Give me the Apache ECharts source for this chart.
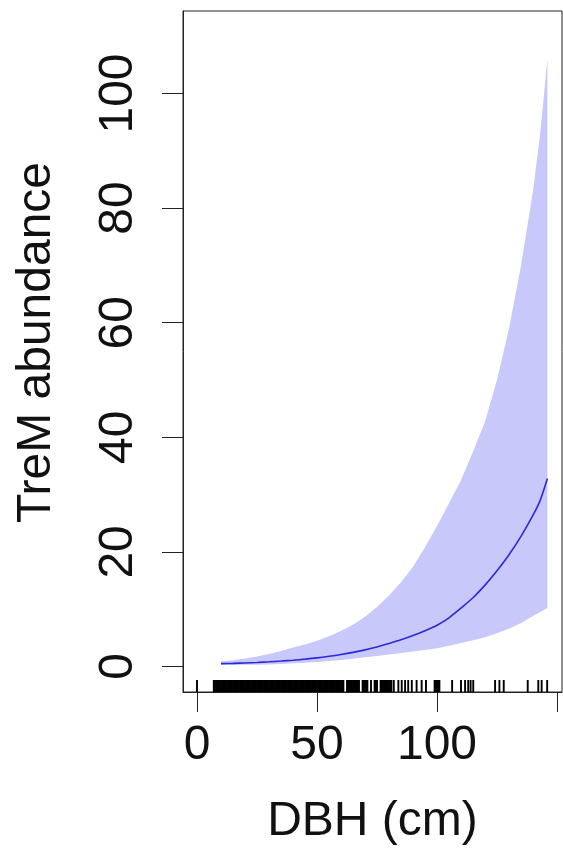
<!DOCTYPE html>
<html>
<head>
<meta charset="utf-8">
<script src="https://cdn.jsdelivr.net/npm/echarts@6/dist/echarts.min.js"></script>
<style>
html, body { margin: 0; padding: 0; background: #fff; }
#chart { width: 563px; height: 858px; }
</style>
</head>
<body>
<div id="chart"></div>
<script>
// Predicted TreM abundance along DBH
const dbh   = [10, 15, 20, 25, 30, 35, 40, 45, 50, 55, 60, 65, 70, 75, 80, 85, 90, 95, 100, 105, 110, 115, 120, 125, 130, 135, 140, 143, 146];
const fit   = [0.5, 0.55, 0.62, 0.71, 0.82, 0.95, 1.1, 1.28, 1.5, 1.78, 2.1, 2.47, 2.9, 3.4, 4.0, 4.65, 5.4, 6.25, 7.2, 8.5, 10.2, 12.0, 14.2, 16.7, 19.5, 22.7, 26.4, 29.0, 32.8];
const upper = [0.9, 1.1, 1.4, 1.75, 2.2, 2.7, 3.3, 3.85, 4.5, 5.3, 6.2, 7.3, 8.7, 10.4, 12.4, 14.7, 17.4, 20.8, 24.5, 28.5, 32.5, 37.5, 42.7, 50, 59, 70, 83, 93, 106];
const lower = [0.25, 0.27, 0.3, 0.32, 0.35, 0.45, 0.55, 0.67, 0.8, 0.97, 1.15, 1.37, 1.6, 1.85, 2.1, 2.35, 2.6, 2.9, 3.2, 3.6, 4.1, 4.6, 5.1, 5.8, 6.6, 7.6, 8.8, 9.5, 10.2];

// Observed DBH values (rug)
const rugDbh = [
  0,
  7, 7.5, 8, 8.5, 9, 9.5, 10, 10.5, 11, 11.5, 12, 12.5, 13, 13.5, 14, 14.5, 15, 15.5, 16, 16.5,
  17, 17.5, 18, 18.5, 19, 19.5, 20, 20.5, 21, 21.5, 22, 22.5, 23, 23.5, 24, 24.5, 25, 25.5, 26, 26.5,
  27, 27.5, 28, 28.5, 29, 29.5, 30, 30.5, 31, 31.5, 32, 32.5, 33, 33.5, 34, 34.5, 35, 35.5, 36, 36.5,
  37, 37.5, 38, 38.5, 39, 39.5, 40, 40.5, 41, 41.5, 42, 42.5, 43, 43.5, 44, 44.5, 45, 45.5, 46, 46.5,
  47, 47.5, 48, 48.5, 49, 49.5, 50, 50.5, 51, 51.5, 52, 52.5, 53, 53.5, 54, 54.5, 55, 55.5, 56, 56.5,
  57, 57.5, 58, 58.5, 59, 59.5, 60, 60.5, 61,
  62.5, 63, 63.5, 64, 64.5, 65, 65.5, 66, 66.5, 67, 67.5, 69, 69.5, 70, 70.5, 71, 72.5,
  74, 74.5, 75, 76.5, 77, 77.5, 78, 78.5, 79, 79.5, 80, 80.5, 81, 82,
  83.9, 85.3, 86.7, 88, 89.5, 91.5, 93.6, 95.4,
  99, 99.5, 100, 100.5, 101, 106.3, 110, 111.7, 113, 114, 115.1,
  124.2, 126, 127.8, 137.8, 142.2, 143.6, 145.9
];

const xTicks = [0, 50, 100, 150];
const xLabels = [0, 50, 100];
const yTicks = [0, 20, 40, 60, 80, 100];

const FONT = 'Liberation Sans, Arial, sans-serif';
const TXT = '#111';

const chart = echarts.init(document.getElementById('chart'), null, { renderer: 'canvas' });

chart.setOption({
  backgroundColor: '#fff',
  animation: false,
  grid: {
    left: 183, right: 1, top: 11, bottom: 166,
    show: true, borderColor: '#222', borderWidth: 1,
    backgroundColor: 'transparent',
    outerBoundsMode: 'none', containLabel: false
  },
  xAxis: {
    type: 'value',
    min: -5.83, max: 152.08,
    name: 'DBH (cm)',
    nameLocation: 'middle',
    nameGap: 106,
    nameTextStyle: { fontFamily: FONT, fontSize: 48, color: TXT },
    axisLine: { show: true, onZero: false, lineStyle: { color: '#222', width: 1 } },
    axisTick: { show: true, inside: false, length: 20, customValues: xTicks, lineStyle: { color: '#222', width: 1 } },
    axisLabel: { customValues: xLabels, margin: 30, fontFamily: FONT, fontSize: 48, color: TXT },
    splitLine: { show: false }
  },
  yAxis: {
    type: 'value',
    min: -4.45, max: 114.4,
    name: 'TreM abundance',
    nameLocation: 'middle',
    nameRotate: 90,
    nameGap: 122,
    nameTextStyle: { fontFamily: FONT, fontSize: 48, color: TXT, padding: [0, 0, 0, 18] },
    axisLine: { show: true, onZero: false, lineStyle: { color: '#222', width: 1 } },
    axisTick: { show: true, inside: false, length: 21, customValues: yTicks, lineStyle: { color: '#222', width: 1 } },
    axisLabel: { customValues: yTicks, rotate: 90, margin: 40, fontFamily: FONT, fontSize: 48, color: TXT },
    splitLine: { show: false }
  },
  series: [
    {
      type: 'custom',
      name: 'band',
      data: dbh.map((x, i) => [x, lower[i], upper[i]]),
      encode: { x: 0, y: [1, 2] },
      silent: true,
      z: 1,
      renderItem: function (params, api) {
        if (params.dataIndex !== 0) return null;
        const pts = [];
        for (let i = 0; i < dbh.length; i++) pts.push(api.coord([dbh[i], upper[i]]));
        for (let i = dbh.length - 1; i >= 0; i--) pts.push(api.coord([dbh[i], lower[i]]));
        return { type: 'polygon', shape: { points: pts }, style: { fill: '#c8c8fb', stroke: null } };
      }
    },
    {
      type: 'line',
      name: 'fit',
      data: dbh.map((x, i) => [x, fit[i]]),
      smooth: 0.3,
      showSymbol: false,
      lineStyle: { color: '#2a2ad8', width: 1.6 },
      z: 3
    },
    {
      type: 'custom',
      name: 'rug',
      data: rugDbh.map(v => [v, 0]),
      encode: { x: 0, y: 1 },
      silent: true,
      z: 4,
      renderItem: function (params, api) {
        const x = api.coord([api.value(0), 0])[0];
        const bottom = params.coordSys.y + params.coordSys.height;
        return {
          type: 'line',
          shape: { x1: x, y1: bottom, x2: x, y2: bottom - 12 },
          style: { stroke: '#000', lineWidth: 1.9 }
        };
      }
    }
  ]
});
</script>
</body>
</html>
